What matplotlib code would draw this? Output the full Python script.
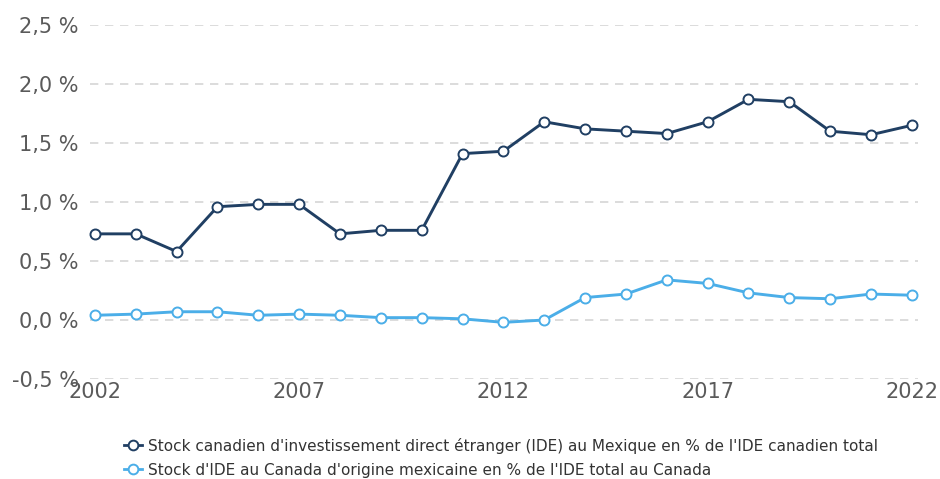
import matplotlib
matplotlib.use("Agg")
import matplotlib.pyplot as plt
from matplotlib.lines import Line2D

# DATA
years = list(range(2002, 2023))
ide_canada_mexique = [0.73, 0.73, 0.58, 0.96, 0.98, 0.98, 0.73, 0.76, 0.76, 1.41, 1.43,
                      1.68, 1.62, 1.60, 1.58, 1.68, 1.87, 1.85, 1.60, 1.57, 1.65]
ide_mexique_canada = [0.04, 0.05, 0.07, 0.07, 0.04, 0.05, 0.04, 0.02, 0.02, 0.01, -0.02,
                      0.00, 0.19, 0.22, 0.34, 0.31, 0.23, 0.19, 0.18, 0.22, 0.21]
labels = ["Stock canadien d'investissement direct étranger (IDE) au Mexique en % de l'IDE canadien total",
          "Stock d'IDE au Canada d'origine mexicaine en % de l'IDE total au Canada"]
colors = ["#203f63", "#4baee8"]
y_ticks = [-0.5, 0.0, 0.5, 1.0, 1.5, 2.0, 2.5]
y_ticklabels = ["-0,5 %", "0,0 %", "0,5 %", "1,0 %", "1,5 %", "2,0 %", "2,5 %"]
x_ticks = [2002, 2007, 2012, 2017, 2022]

# PLOT
fig = plt.figure(figsize=(9.4, 4.79), dpi=100)
ax = fig.add_axes([90 / 940, 1 - 379 / 479, 828 / 940, 354 / 479])

for vals, c in zip([ide_canada_mexique, ide_mexique_canada], colors):
    ax.plot(years, vals, color=c, lw=2.1, marker="o", ms=7.2,
            markerfacecolor="white", markeredgecolor=c, markeredgewidth=1.4,
            zorder=3, clip_on=False)

ax.set_xlim(2001.88, 2022.15)
ax.set_ylim(-0.5, 2.5)
ax.set_yticks(y_ticks)
ax.set_yticklabels(y_ticklabels)
ax.set_xticks(x_ticks)
ax.tick_params(axis="both", length=0, labelsize=15, labelcolor="#5a5a5a")
ax.tick_params(axis="y", pad=8)
ax.tick_params(axis="x", pad=2)
ax.grid(axis="y", color="#d6d6d6", lw=1.2, linestyle=(0, (5, 4)))
ax.set_axisbelow(True)
for s in ax.spines.values():
    s.set_visible(False)

handles = [Line2D([0], [0], color=c, lw=2, marker="o", ms=7, markerfacecolor="white",
                  markeredgecolor=c, markeredgewidth=1.4) for c in colors]
fig.legend(handles, labels, loc="upper left", bbox_to_anchor=(116 / 940, 1 - 430 / 479),
           frameon=False, fontsize=11, labelcolor="#333333", handlelength=1.2,
           handletextpad=0.4, labelspacing=0.6, borderpad=0)

plt.savefig("out.png", dpi=100)
